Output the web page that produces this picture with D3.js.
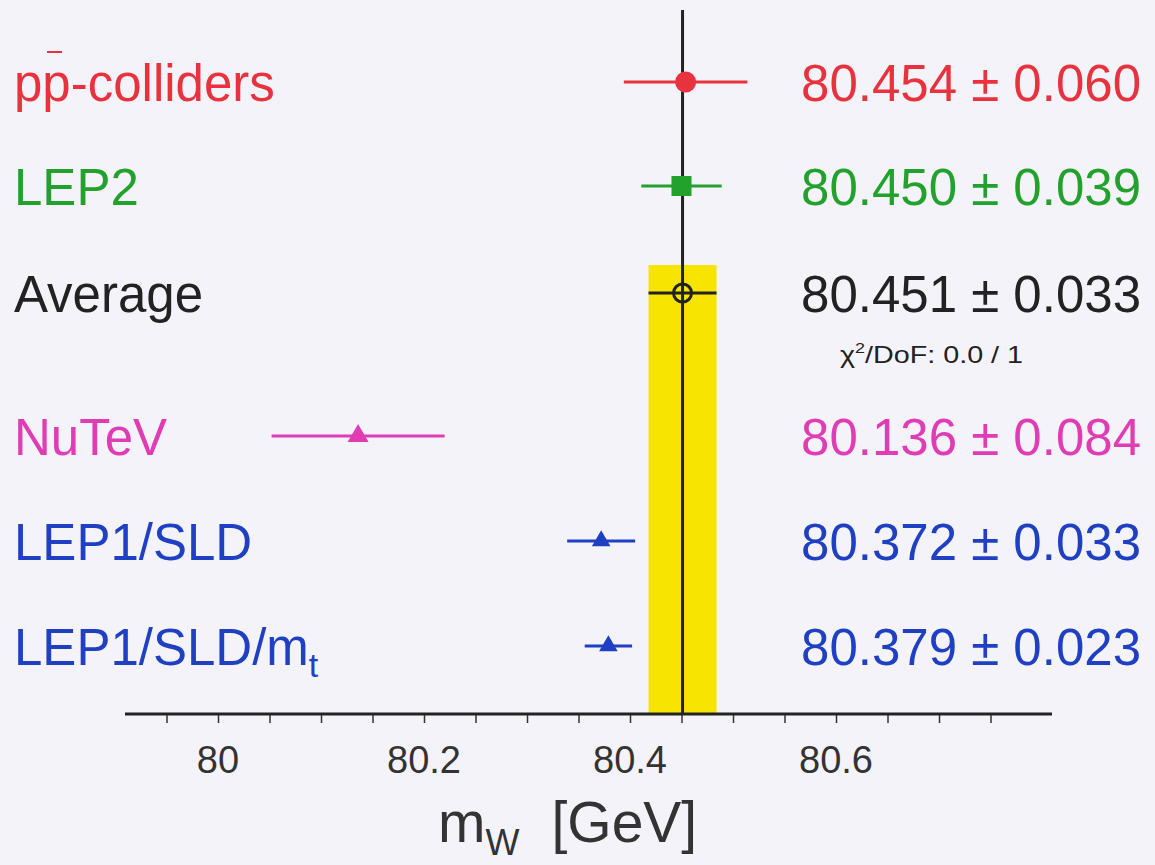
<!DOCTYPE html>
<html><head><meta charset="utf-8">
<script src="https://cdn.jsdelivr.net/npm/d3@7"></script>
<style>body{margin:0;background:#f4f3f9;}svg{display:block;font-family:"Liberation Sans",Arial,Helvetica,sans-serif;}</style>
</head><body>
<script>
const labels = ["pp-colliders","LEP2","Average","NuTeV","LEP1/SLD","LEP1/SLD/m_t"];
const values = [80.454, 80.450, 80.451, 80.136, 80.372, 80.379];
const errors = [0.060, 0.039, 0.033, 0.084, 0.033, 0.023];
const valueTexts = ["80.454 ± 0.060","80.450 ± 0.039","80.451 ± 0.033","80.136 ± 0.084","80.372 ± 0.033","80.379 ± 0.023"];
const markers = ["circle","square","open","triangle","triangle","triangle"];
const colors = ["#e8323e","#22a22c","#222222","#e03cb4","#2040c4","#2040c4"];
const majorTicks = [80, 80.2, 80.4, 80.6];
const avgValue = 80.451, avgError = 0.033;

const W=1155,H=865;
const svg=d3.select("body").append("svg").attr("width",W).attr("height",H);
svg.append("rect").attr("width",W).attr("height",H).attr("fill","#f4f3f9");

const x=d3.scaleLinear().domain([79.9097,80.8097]).range([125,1052]);
const rowY=[82,186,293,436,541,646];
const axisY=714;

// yellow band
svg.append("rect").attr("x",x(avgValue-avgError)).attr("width",x(avgValue+avgError)-x(avgValue-avgError))
 .attr("y",265).attr("height",axisY-265).attr("fill","#f7e400");
// vertical line
svg.append("line").attr("x1",x(avgValue)).attr("x2",x(avgValue)).attr("y1",10).attr("y2",axisY)
 .attr("stroke","#222").attr("stroke-width",3);

// axis
const minor=d3.range(79.95,80.76,0.05);
const axis=d3.axisBottom(x).tickValues(minor).tickSize(9).tickFormat(()=> "");
const gA=svg.append("g").attr("transform",`translate(0,${axisY})`).call(axis);
gA.select(".domain").remove();
gA.selectAll(".tick line").attr("stroke","#333").attr("stroke-width",1.5);
svg.append("line").attr("x1",125).attr("x2",1052).attr("y1",axisY).attr("y2",axisY).attr("stroke","#222").attr("stroke-width",3);
svg.append("g").selectAll("text").data(majorTicks).join("text")
 .attr("x",d=>x(d)).attr("y",773).attr("text-anchor","middle").attr("font-size",38).attr("fill","#333")
 .text(d=>d3.format("")(d));

// axis title
const t=svg.append("text").attr("x",438).attr("y",842).attr("font-size",57).attr("fill","#333");
t.append("tspan").text("m");
t.append("tspan").attr("font-size",36).attr("dy",13).text("W");
t.append("tspan").attr("dy",-13).attr("dx",32).text("[GeV]");

// rows
labels.forEach((lab,i)=>{
  const cy=rowY[i], c=colors[i];
  const g=svg.append("g");
  const tl=g.append("text").attr("x",14).attr("y",cy+19).attr("font-size",51).attr("fill",c);
  if(lab.endsWith("_t")){
    tl.append("tspan").text(lab.slice(0,-2));
    tl.append("tspan").attr("font-size",34).attr("dy",12).text("t");
  } else tl.text(lab);
  if(i===0){
    g.append("line").attr("x1",47).attr("x2",62).attr("y1",52).attr("y2",52).attr("stroke",c).attr("stroke-width",2);
  }
  g.append("text").attr("x",1141).attr("y",cy+19).attr("text-anchor","end").attr("font-size",51).attr("fill",c).text(valueTexts[i]);
  g.append("line").attr("x1",x(values[i]-errors[i])).attr("x2",x(values[i]+errors[i])).attr("y1",cy).attr("y2",cy)
   .attr("stroke",c).attr("stroke-width",3);
  const cx=x(values[i]);
  if(markers[i]==="circle") g.append("circle").attr("cx",cx).attr("cy",cy).attr("r",10.5).attr("fill",c);
  else if(markers[i]==="square") g.append("rect").attr("x",cx-10).attr("y",cy-10).attr("width",20).attr("height",20).attr("fill",c);
  else if(markers[i]==="open") g.append("circle").attr("cx",cx).attr("cy",cy).attr("r",9).attr("fill","none").attr("stroke",c).attr("stroke-width",3);
  else g.append("path").attr("d",d3.symbol(d3.symbolTriangle,i===3?190:150)()).attr("transform",`translate(${cx},${cy})`).attr("fill",c);
});
// chi2
const ct=svg.append("text").attr("x",840).attr("y",363).attr("font-size",24).attr("fill","#222")
 .attr("textLength",183).attr("lengthAdjust","spacingAndGlyphs");
ct.append("tspan").text("χ");
ct.append("tspan").attr("font-size",15).attr("dy",-10).text("2");
ct.append("tspan").attr("dy",10).text("/DoF: 0.0 / 1");
</script>
</body></html>
